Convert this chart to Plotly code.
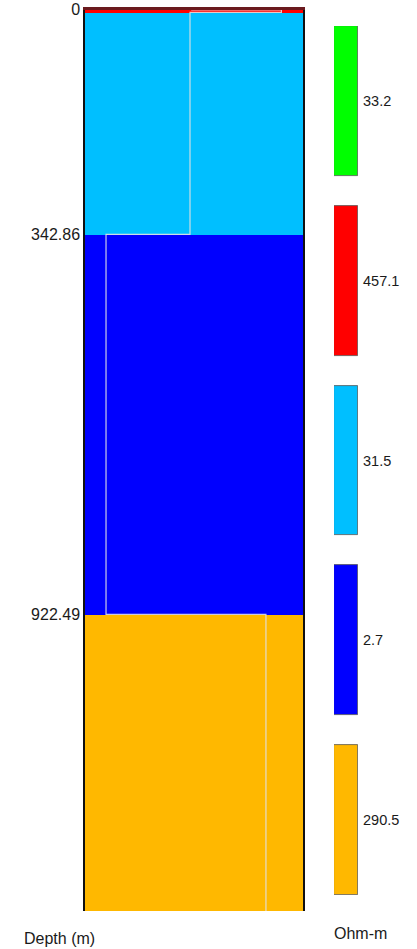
import plotly.graph_objects as go
import numpy as np

# Layer model (top to bottom)
resistivity = [33.2, 457.1, 31.5, 2.7, 290.5]          # Ohm-m
layer_tops = [0.0, 0.5, 4.5, 342.86, 922.49]           # m
layer_colors = ["#00FF00", "#FF0000", "#00BFFF", "#0000FF", "#FFB800"]
depth_ticks = [0, 342.86, 922.49]
depth_tick_labels = ["0", "342.86", "922.49"]
bottom_depth = 1375.0   # display depth of half-space

W, H = 417, 949
FONT = "Liberation Sans, Arial, sans-serif"
TXT = "#1a1a1a"
def px_x(p): return p / W
def px_y(p): return 1 - p / H

layer_bottoms = layer_tops[1:] + [bottom_depth]
thick = [b - t for t, b in zip(layer_tops, layer_bottoms)]

fig = go.Figure()

# column layers
for t, th, c in zip(layer_tops, thick, layer_colors):
    fig.add_trace(go.Bar(x=[0], y=[th], base=[t], width=[1.0], marker=dict(color=c, line=dict(width=0)),
                         xaxis="x", yaxis="y", showlegend=False, hoverinfo="skip"))

# resistivity step curve (log scale)
cx, cy = [], []
for r, t, b in zip(resistivity, layer_tops, layer_bottoms):
    cx += [r, r]
    cy += [t, b]
fig.add_trace(go.Scatter(x=cx, y=cy, mode="lines", line=dict(color="rgba(225,225,225,0.9)", width=1.2),
                         xaxis="x2", yaxis="y", showlegend=False, hoverinfo="skip"))

# legend colour bars
n = len(resistivity)
for i, (r, c) in enumerate(zip(resistivity, layer_colors)):
    fig.add_trace(go.Bar(x=[0], y=[150/180], base=[i], width=[1.0],
                         marker=dict(color=c, line=dict(color="#555555", width=0.8)),
                         xaxis="x3", yaxis="y3", showlegend=False, hoverinfo="skip"))
    fig.add_annotation(x=px_x(361), y=i + 75/180, xref="paper", yref="y3", text=f"{r}",
                       showarrow=False, xanchor="left", yanchor="middle",
                       font=dict(size=14.5, color=TXT, family=FONT))

fig.add_annotation(x=px_x(22), y=px_y(938), xref="paper", yref="paper", text="Depth (m)",
                   showarrow=False, xanchor="left", yanchor="middle",
                   font=dict(size=16, color=TXT, family=FONT))
fig.add_annotation(x=px_x(332), y=px_y(933), xref="paper", yref="paper", text="Ohm-m",
                   showarrow=False, xanchor="left", yanchor="middle",
                   font=dict(size=16, color=TXT, family=FONT))

dom_x = [px_x(85), px_x(303)]
dom_y = [px_y(911), px_y(9.5)]
fig.update_layout(
    width=W, height=H, margin=dict(l=0, r=0, t=0, b=0, autoexpand=False),
    paper_bgcolor="white", plot_bgcolor="white", barmode="overlay", bargap=0,
    font=dict(family=FONT, size=14, color=TXT),
    xaxis=dict(domain=dom_x, range=[-0.5, 0.5], showgrid=False, zeroline=False, showticklabels=False,
               ticks="", side="top", showline=True, linecolor="#6a1a1e", linewidth=3,
               automargin=False),
    xaxis2=dict(domain=dom_x, type="log", range=[np.log10(1.46), np.log10(859)], overlaying="x",
                showgrid=False, zeroline=False, showticklabels=False, ticks="", showline=False,
                automargin=False),
    yaxis=dict(domain=dom_y, range=[bottom_depth, 0], showgrid=False, zeroline=False,
               tickvals=depth_ticks, ticktext=depth_tick_labels, ticks="", ticklen=0,
               showline=True, linecolor="#111111", linewidth=1.5, mirror=True,
               tickfont=dict(size=16, color=TXT, family=FONT), automargin=False),
    xaxis3=dict(domain=[px_x(334), px_x(358)], range=[-0.5, 0.5], showgrid=False, zeroline=False,
                showticklabels=False, ticks="", showline=False, automargin=False),
    yaxis3=dict(domain=[px_y(895), px_y(26)], anchor="x3", range=[n - 1 + 150/180, 0], showgrid=False,
                zeroline=False, showticklabels=False, ticks="", showline=False, automargin=False),
)

fig.write_html("out.html", config={"displayModeBar": False},
               post_script="document.body.style.margin='0';document.body.style.overflow='hidden';")
